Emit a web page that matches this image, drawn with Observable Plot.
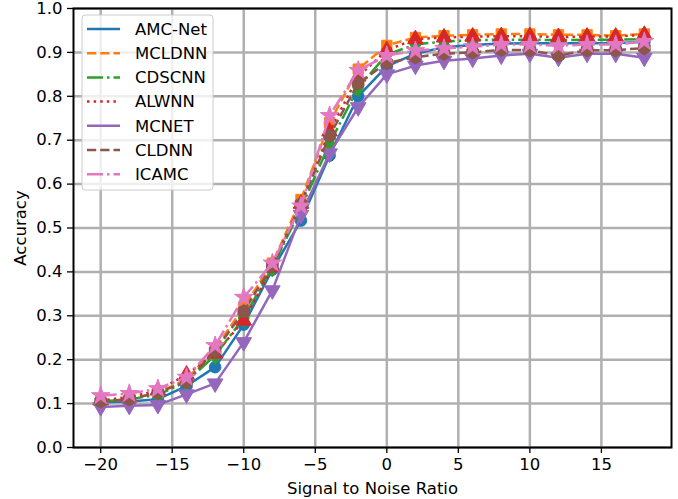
<!DOCTYPE html>
<html>
<head>
<meta charset="utf-8">
<script src="https://cdn.jsdelivr.net/npm/d3@7"></script>
<script src="https://cdn.jsdelivr.net/npm/@observablehq/plot@0.6"></script>
<style>
  html, body { margin: 0; padding: 0; background: #fff; }
  #chart { width: 678px; height: 499px; }
</style>
</head>
<body>
<div id="chart"></div>
<script>
const snr = [-20, -18, -16, -14, -12, -10, -8, -6, -4, -2, 0, 2, 4, 6, 8, 10, 12, 14, 16, 18];

const amcNet = [0.103, 0.105, 0.110, 0.140, 0.183, 0.280, 0.405, 0.517, 0.665, 0.800, 0.868, 0.897, 0.912, 0.917, 0.920, 0.921, 0.921, 0.921, 0.921, 0.924];
const mcldnn = [0.105, 0.110, 0.125, 0.155, 0.225, 0.320, 0.420, 0.565, 0.740, 0.862, 0.916, 0.934, 0.938, 0.940, 0.942, 0.942, 0.940, 0.940, 0.938, 0.942];
const cdscnn = [0.105, 0.110, 0.120, 0.150, 0.210, 0.295, 0.410, 0.545, 0.692, 0.820, 0.895, 0.918, 0.925, 0.928, 0.929, 0.929, 0.928, 0.929, 0.929, 0.930];
const alwnn  = [0.107, 0.115, 0.130, 0.166, 0.214, 0.289, 0.410, 0.555, 0.720, 0.845, 0.905, 0.930, 0.934, 0.936, 0.937, 0.937, 0.935, 0.936, 0.936, 0.940];
const mcnet  = [0.092, 0.095, 0.097, 0.121, 0.146, 0.240, 0.358, 0.530, 0.670, 0.775, 0.850, 0.870, 0.881, 0.886, 0.893, 0.897, 0.888, 0.897, 0.897, 0.888];
const cldnn  = [0.105, 0.110, 0.125, 0.150, 0.220, 0.310, 0.415, 0.555, 0.710, 0.830, 0.876, 0.889, 0.897, 0.900, 0.906, 0.905, 0.893, 0.905, 0.905, 0.910];
const icamc  = [0.118, 0.123, 0.134, 0.160, 0.232, 0.342, 0.420, 0.550, 0.756, 0.859, 0.893, 0.904, 0.909, 0.913, 0.918, 0.918, 0.915, 0.918, 0.918, 0.925];

const seriesNames = ["AMC-Net", "MCLDNN", "CDSCNN", "ALWNN", "MCNET", "CLDNN", "ICAMC"];
const seriesValues = [amcNet, mcldnn, cdscnn, alwnn, mcnet, cldnn, icamc];
const seriesColors = ["#1f77b4", "#ff7f0e", "#2ca02c", "#d62728", "#9467bd", "#8c564b", "#e377c2"];
const seriesDash = ["none", "9.25,4", "16,4,2.5,4", "2.5,4.1", "none", "9.25,4", "16,4,2.5,4"];
const seriesSymbol = ["circle", "square", "diamond", "triangle", "triangle", "hexagon", "star"];
const seriesRotate = [0, 0, 0, 0, 180, 0, 0];

const xTicks = [-20, -15, -10, -5, 0, 5, 10, 15];
const yTicks = [0, 0.1, 0.2, 0.3, 0.4, 0.5, 0.6, 0.7, 0.8, 0.9, 1.0];

const LW = 2.5;
const FS = 16.5;

const marks = [
  Plot.gridX(xTicks, {stroke: "#b0b0b0", strokeOpacity: 1, strokeWidth: 2.5}),
  Plot.gridY(yTicks, {stroke: "#b0b0b0", strokeOpacity: 1, strokeWidth: 2.5})
];

seriesNames.forEach((name, i) => {
  const data = snr.map((s, j) => ({snr: s, acc: seriesValues[i][j]}));
  marks.push(Plot.line(data, {
    x: "snr", y: "acc",
    stroke: seriesColors[i], strokeWidth: LW,
    strokeDasharray: seriesDash[i] === "none" ? null : seriesDash[i],
    strokeLinecap: "butt", strokeLinejoin: "round"
  }));
  marks.push(Plot.dot(data, {
    x: "snr", y: "acc",
    symbol: () => seriesSymbol[i],
    fill: seriesColors[i], stroke: seriesColors[i], strokeWidth: 1,
    r: 5.8, rotate: seriesRotate[i]
  }));
});

marks.push(Plot.frame({stroke: "black", strokeWidth: 2}));
marks.push(Plot.axisX(xTicks, {tickSize: 6, tickPadding: 5, strokeWidth: 1.3, label: "Signal to Noise Ratio", labelAnchor: "center", labelOffset: 46, labelArrow: "none", fontSize: FS, fill: "black"}));
marks.push(Plot.axisY(yTicks, {tickSize: 6, tickPadding: 5, strokeWidth: 1.3, tickFormat: d3.format(".1f"), label: "Accuracy", labelAnchor: "center", labelOffset: 59, labelArrow: "none", fontSize: FS, fill: "black"}));

const chart = Plot.plot({
  width: 678,
  height: 499,
  marginLeft: 73,
  marginRight: 7,
  marginTop: 8,
  marginBottom: 52,
  style: {fontFamily: "DejaVu Sans", fontSize: FS + "px", background: "white", color: "black"},
  x: {domain: [-21.9, 19.9]},
  y: {domain: [0, 1]},
  symbol: {type: "identity"},
  marks
});

// Legend (inside plot, upper left)
const svg = d3.select(chart);
const lg = svg.append("g").attr("transform", "translate(82,15)");
lg.append("rect")
  .attr("width", 131).attr("height", 175).attr("rx", 3)
  .attr("fill", "white").attr("fill-opacity", 0.8)
  .attr("stroke", "#cccccc").attr("stroke-width", 1);
seriesNames.forEach((name, i) => {
  const yy = 14 + i * 24.2;
  lg.append("line")
    .attr("x1", 5).attr("x2", 38).attr("y1", yy).attr("y2", yy)
    .attr("stroke", seriesColors[i]).attr("stroke-width", LW)
    .attr("stroke-dasharray", seriesDash[i] === "none" ? null : seriesDash[i])
    .attr("stroke-linecap", "butt");
  lg.append("text")
    .attr("x", 53).attr("y", yy).attr("dy", "0.35em")
    .attr("text-anchor", "start")
    .attr("font-family", "DejaVu Sans").attr("font-size", FS)
    .attr("fill", "black")
    .text(name);
});

document.getElementById("chart").appendChild(chart);
</script>
</body>
</html>
